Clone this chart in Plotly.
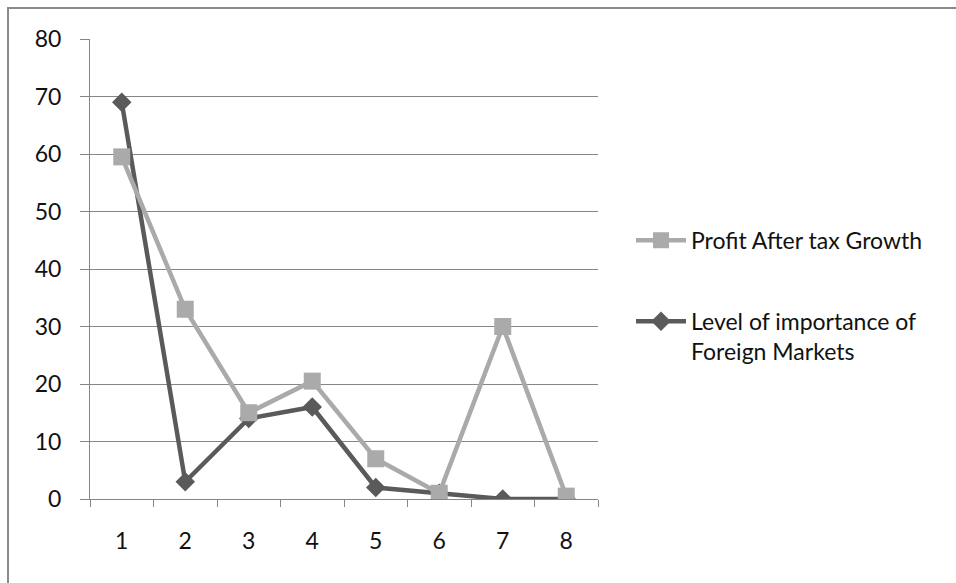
import plotly.graph_objects as go

categories = [1, 2, 3, 4, 5, 6, 7, 8]
profit_growth = [59.5, 33, 15, 20.5, 7, 1, 30, 0.5]
foreign_importance = [69, 3, 14, 16, 2, 1, 0, 0]
y_ticks = [0, 10, 20, 30, 40, 50, 60, 70, 80]

FONT = "Lato, 'Open Sans', sans-serif"

fig = go.Figure()
fig.add_trace(go.Scatter(
    x=categories, y=foreign_importance, mode="lines+markers",
    name="Level of importance of<br>Foreign Markets",
    line=dict(color="#5A5A5A", width=4.5),
    marker=dict(symbol="diamond", size=15, color="#5A5A5A"),
    legendrank=2, legendgroup="b",
))
fig.add_trace(go.Scatter(
    x=categories, y=profit_growth, mode="lines+markers",
    name="Profit After tax Growth",
    line=dict(color="#AAAAAA", width=4.5),
    marker=dict(symbol="square", size=17, color="#AAAAAA"),
    legendrank=1, legendgroup="a",
))

fig.update_layout(
    width=956, height=583,
    margin=dict(l=90, r=358, t=39, b=84),
    paper_bgcolor="white", plot_bgcolor="white",
    font=dict(family=FONT, size=23, color="#111111"),
    showlegend=True,
    legend=dict(x=1.065, y=0.609, xanchor="left", yanchor="top", valign="top",
                font=dict(family=FONT, size=23, color="#111111"),
                tracegroupgap=48, itemwidth=50, bgcolor="rgba(0,0,0,0)"),
    xaxis=dict(range=[0.5, 8.5], tickvals=categories, ticktext=[str(c) for c in categories],
               showgrid=False, zeroline=False, showline=True, linecolor="#868686", linewidth=1,
               ticks="", ticklabelstandoff=21,
               minor=dict(tick0=0.5, dtick=1, ticks="outside", ticklen=7,
                          tickcolor="#868686", showgrid=False)),
    yaxis=dict(range=[0, 80], tickvals=y_ticks, showgrid=True, gridcolor="#868686", gridwidth=1,
               zeroline=False, showline=True, linecolor="#868686", linewidth=1,
               ticks="outside", ticklen=9, tickcolor="#868686", ticklabelstandoff=14),
    shapes=[dict(type="rect", xref="paper", yref="paper",
                 x0=-0.1614, x1=2.0, y0=-0.4, y1=1.0674,
                 line=dict(color="#8A8A8A", width=2), layer="below")],
)

fig.write_html("out.html")
